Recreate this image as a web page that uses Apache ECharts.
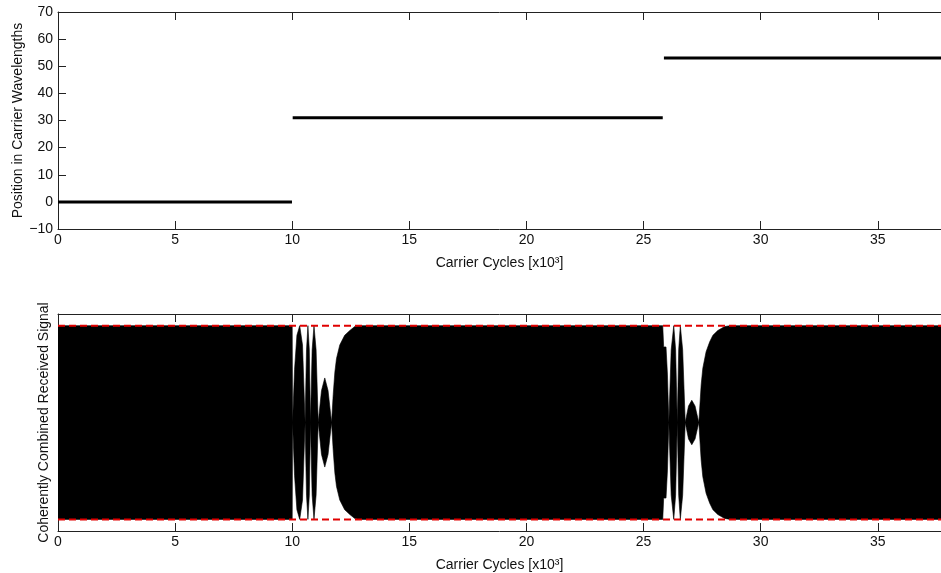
<!DOCTYPE html>
<html>
<head>
<meta charset="utf-8">
<script src="https://cdn.jsdelivr.net/npm/echarts@6/dist/echarts.min.js"></script>
<style>
  html, body { margin: 0; padding: 0; background: #fff; }
  #chart { width: 941px; height: 573px; }
</style>
</head>
<body>
<div id="chart"></div>
<script>
// Horizontal extent of both panels, in thousands of carrier cycles
const xMin = 0;
const xMax = 37.7;
const xTicks = [0, 5, 10, 15, 20, 25, 30, 35];

// Upper panel: array position (carrier wavelengths), one flat segment per hold
const segStart = [0, 10.02, 25.87];
const segEnd = [9.99, 25.82, 37.7];
const segPosition = [0, 31, 53];
const posTicks = [-10, 0, 10, 20, 30, 40, 50, 60, 70];

// Lower panel: envelope of the coherently combined carrier (normalised amplitude)
const envT = [
  0, 10.0, 10.015, 10.1, 10.2, 10.32, 10.44, 10.55,
  10.61, 10.67, 10.73, 10.78,
  10.85, 10.93, 11.02, 11.11,
  11.25, 11.39, 11.53, 11.68,
  11.75, 11.82, 11.89, 12.03, 12.24, 12.46, 12.67, 12.9,
  25.82, 25.86, 25.96, 26.02, 26.08,
  26.18, 26.29, 26.37, 26.44,
  26.50, 26.57, 26.67, 26.78,
  26.92, 27.06, 27.20, 27.36,
  27.46, 27.53, 27.67, 27.82, 27.96, 28.17, 28.46, 28.7, 37.7
];
const envA = [
  1, 1, 0, 0.55, 0.9, 1, 0.8, 0,
  0.75, 1, 0.75, 0,
  0.75, 1, 0.75, 0,
  0.33, 0.46, 0.33, 0,
  0.29, 0.52, 0.66, 0.8, 0.9, 0.95, 0.99, 1,
  1, 0.78, 0.78, 0.5, 0,
  0.75, 1, 0.75, 0,
  0.75, 1, 0.75, 0,
  0.17, 0.23, 0.17, 0,
  0.39, 0.56, 0.73, 0.83, 0.9, 0.95, 0.99, 1, 1
];
// Reference levels of the full combined amplitude
const refLevels = [1, -1];
const sigLimit = 1.12;

const FONT = 'Liberation Sans, Arial, Helvetica, sans-serif';
const TXT = '#111';
const minus = v => String(v).replace('-', '\u2212');

const axisLine = { show: true, onZero: false, lineStyle: { color: '#222', width: 1 } };
const tickIn = { show: true, inside: true, length: 8, lineStyle: { color: '#222', width: 1 } };

function bottomX(gridIndex) {
  return {
    type: 'value', gridIndex, position: 'bottom', min: xMin, max: xMax, interval: 5,
    axisLine, axisTick: tickIn, splitLine: { show: false },
    axisLabel: { color: TXT, fontFamily: FONT, fontSize: 14, margin: 4, showMaxLabel: false,
      formatter: v => xTicks.includes(v) ? String(v) : '' },
    name: 'Carrier Cycles [x10\u00B3]', nameLocation: 'middle', nameGap: 27, nameMoveOverlap: false,
    nameTextStyle: { color: TXT, fontFamily: FONT, fontSize: 14 }
  };
}
function topX(gridIndex) {
  return {
    type: 'value', gridIndex, position: 'top', min: xMin, max: xMax, interval: 5,
    axisLine, axisTick: tickIn, axisLabel: { show: false }, splitLine: { show: false }
  };
}

const series = [];
// position segments
segPosition.forEach((p, i) => {
  series.push({
    type: 'line', xAxisIndex: 0, yAxisIndex: 0, symbol: 'none', animation: false,
    data: [[segStart[i], p], [segEnd[i], p]],
    lineStyle: { color: '#000', width: 3 }
  });
});
// carrier envelope filled symmetrically about zero: +A and -A, each filled to
// just past the axis so the two halves overlap without a seam
[1, -1].forEach(sign => {
  series.push({
    type: 'line', xAxisIndex: 2, yAxisIndex: 1, symbol: 'none', animation: false,
    data: envT.map((t, i) => [t, sign * envA[i]]),
    lineStyle: { width: 0.6, color: '#000' },
    areaStyle: { color: '#000', opacity: 1, origin: -sign * 0.006 }
  });
});
// dashed reference levels
refLevels.forEach(r => {
  series.push({
    type: 'line', xAxisIndex: 2, yAxisIndex: 1, symbol: 'none', animation: false,
    data: [[xMin, r], [xMax, r]], z: 5,
    lineStyle: { color: '#e00000', width: 2, type: [7, 4] }
  });
});

const chart = echarts.init(document.getElementById('chart'), null, { renderer: 'canvas' });
chart.setOption({
  animation: false,
  backgroundColor: '#fff',
  grid: [
    { left: 58, top: 12, right: 0, height: 217, outerBoundsMode: 'none', containLabel: false },
    { left: 58, top: 314, right: 0, height: 217, outerBoundsMode: 'none', containLabel: false }
  ],
  xAxis: [bottomX(0), topX(0), bottomX(1), topX(1)],
  yAxis: [
    {
      type: 'value', gridIndex: 0, min: posTicks[0], max: posTicks[posTicks.length - 1], interval: 10,
      axisLine, axisTick: tickIn, splitLine: { show: false },
      axisLabel: { color: TXT, fontFamily: FONT, fontSize: 14, margin: 5, formatter: minus },
      name: 'Position in Carrier Wavelengths', nameLocation: 'middle', nameGap: 33, nameMoveOverlap: false,
      nameTextStyle: { color: TXT, fontFamily: FONT, fontSize: 14 }
    },
    {
      type: 'value', gridIndex: 1, min: -sigLimit, max: sigLimit,
      axisLine, axisTick: { show: false }, axisLabel: { show: false }, splitLine: { show: false },
      name: 'Coherently Combined Received Signal', nameLocation: 'middle', nameGap: 7, nameMoveOverlap: false,
      nameTextStyle: { color: TXT, fontFamily: FONT, fontSize: 14 }
    }
  ],
  series
});
</script>
</body>
</html>
